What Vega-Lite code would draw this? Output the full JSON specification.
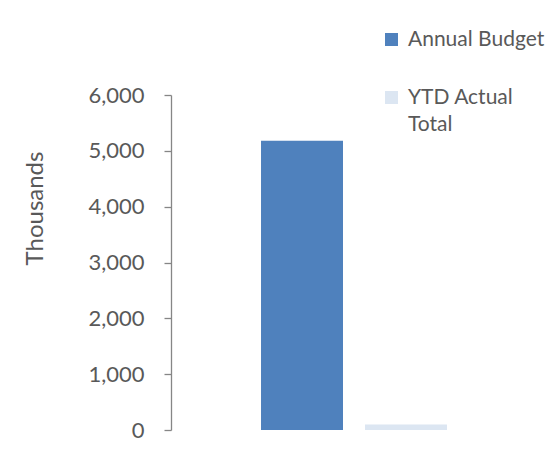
{
  "$schema": "https://vega.github.io/schema/vega-lite/v6.json",
  "width": 366,
  "height": 335,
  "autosize": {"type": "none"},
  "padding": {"left": 171, "top": 95, "right": 16, "bottom": 29},
  "background": "white",
  "data": {"values": [
    {"group": "Total", "series": "Annual Budget", "value": 5180},
    {"group": "Total", "series": "YTD Actual Total", "value": 100}
  ]},
  "mark": {"type": "bar"},
  "encoding": {
    "x": {"field": "group", "type": "nominal", "axis": null,
      "scale": {"paddingInner": 0, "paddingOuter": 0.484}},
    "xOffset": {"field": "series", "type": "nominal",
      "scale": {"paddingInner": 0.2115, "paddingOuter": 0}},
    "y": {"field": "value", "type": "quantitative",
      "scale": {"domain": [0, 6000], "nice": false},
      "axis": {"title": "Thousands", "values": [0, 1000, 2000, 3000, 4000, 5000, 6000], "format": ",.0f",
        "grid": false, "tickSize": 7, "tickColor": "#868686", "domainColor": "#868686", "domainWidth": 1.3, "tickWidth": 1.3,
        "labelFont": "Lato", "labelFontSize": 22, "labelColor": "#595959", "labelPadding": 20,
        "titleFont": "Lato", "titleFontSize": 24, "titleFontWeight": "normal", "titleColor": "#595959", "titlePadding": 40,
        "titleY": 113}},
    "color": {"field": "series", "type": "nominal",
      "scale": {"domain": ["Annual Budget", "YTD Actual Total"], "range": ["#4f81bd", "#dce6f2"]},
      "legend": {"title": null, "orient": "none", "legendX": 210, "legendY": -66,
        "symbolType": "square", "symbolSize": 169, "symbolStrokeWidth": 0, "symbolOpacity": 1,
        "labelFont": "Lato", "labelFontSize": 21, "labelColor": "#595959", "labelOffset": 6,
        "rowPadding": 36, "labelLimit": 300,
        "labelExpr": "datum.label == 'YTD Actual Total' ? ['YTD Actual', 'Total'] : datum.label"}}
  },
  "config": {"view": {"stroke": null}, "style": {"guide-label": {"lineHeight": 27}}}
}
